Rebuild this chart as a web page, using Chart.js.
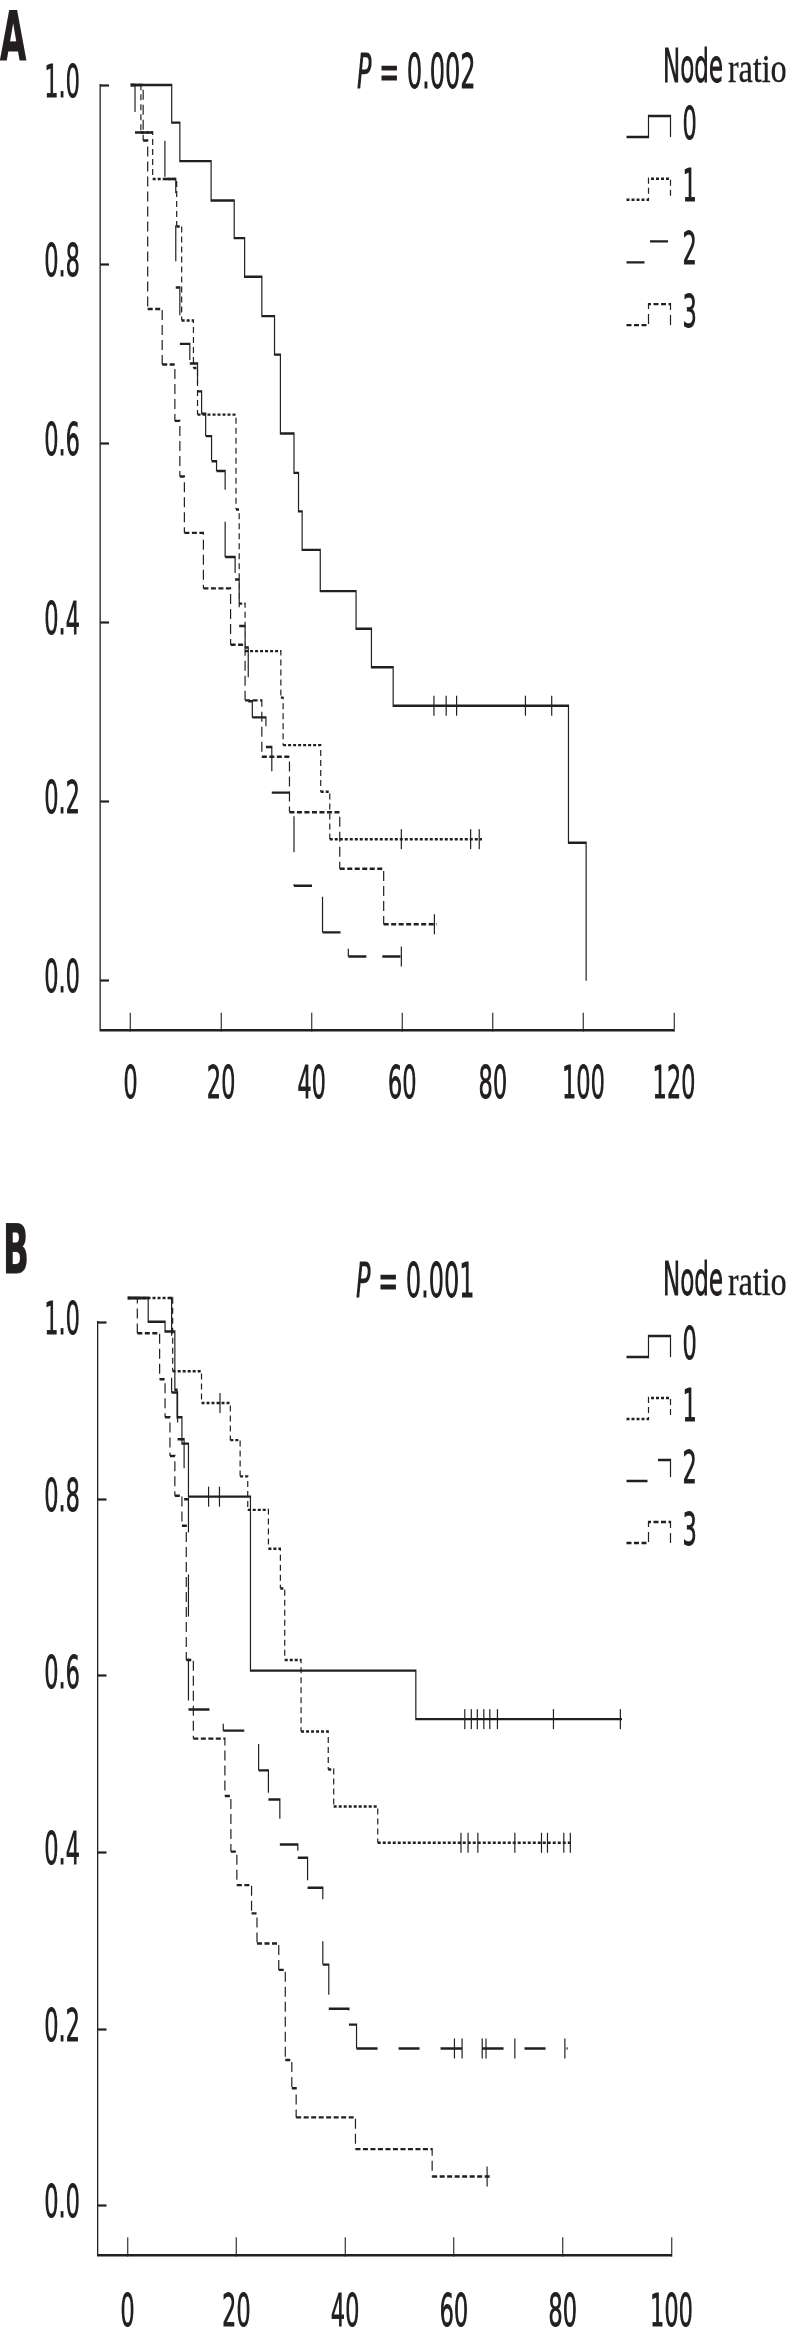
<!DOCTYPE html>
<html lang="en">
<head>
<meta charset="utf-8">
<title>Node ratio survival curves</title>
<script src="https://cdn.jsdelivr.net/npm/chart.js@4.4.1/dist/chart.umd.min.js"></script>
<style>
  html, body { margin: 0; padding: 0; background: #fff; }
  #page { position: relative; width: 787px; height: 2341px; overflow: hidden; }
  #page canvas { position: absolute; left: 0; }
</style>
</head>
<body>
<div id="page">
  <!-- drawn twice as wide and squeezed by css, the original figure is squeezed the same way -->
  <canvas id="grafico-a" width="1574" height="1170" style="top:0px;width:787px;height:1170px"></canvas>
  <canvas id="grafico-b" width="1574" height="1171" style="top:1170px;width:787px;height:1171px"></canvas>
</div>
<script>
const ink = '#231f20';
const groupLabels = ['0', '1', '2', '3'];
const yTicks = [0, 0.2, 0.4, 0.6, 0.8, 1.0];

// Panel A - time (months) / survival / censored times per node ratio group
const aXTicks = [0, 20, 40, 60, 80, 100, 120];
const aPValue = '0.002';

const aTime0 = [0, 9.1, 10.9, 17.8, 22.9, 25.2, 29.0, 31.8, 33.1, 36.1, 37.1, 37.9, 41.9, 49.8, 53.2, 58.0, 96.7, 100.6];
const aSurv0 = [1.0, 0.958, 0.915, 0.871, 0.829, 0.786, 0.742, 0.699, 0.611, 0.567, 0.524, 0.481, 0.435, 0.393, 0.350, 0.307, 0.154, 0.0];
const aCens0 = [67.0, 69.7, 72.0, 87.2, 93.0];

const aTime1 = [0, 2.3, 4.9, 10.2, 11.3, 13.9, 14.8, 23.3, 24.0, 25.3, 33.2, 33.7, 42.0, 44.0, 77.6];
const aSurv1 = [1.0, 0.947, 0.895, 0.842, 0.737, 0.684, 0.632, 0.526, 0.421, 0.368, 0.316, 0.263, 0.211, 0.158, 0.158];
const aCens1 = [59.8, 75.1, 77.0];

const aTime2 = [0, 1.0, 7.6, 10.0, 10.9, 13.1, 14.8, 15.7, 16.6, 17.9, 19.0, 20.9, 23.1, 24.0, 25.3, 26.0, 26.9, 29.9, 31.2, 36.1, 42.4, 48.1, 59.8];
const aSurv2 = [1.0, 0.947, 0.895, 0.774, 0.711, 0.689, 0.658, 0.633, 0.608, 0.580, 0.569, 0.473, 0.448, 0.396, 0.372, 0.312, 0.294, 0.261, 0.210, 0.106, 0.054, 0.027, 0.027];
const aCens2 = [59.8];

const aTime3 = [0, 2.8, 3.8, 7.0, 9.8, 10.9, 11.9, 16.1, 22.1, 25.3, 29.0, 35.1, 46.2, 55.9, 67.6];
const aSurv3 = [1.0, 0.938, 0.75, 0.688, 0.625, 0.563, 0.5, 0.438, 0.375, 0.313, 0.25, 0.188, 0.125, 0.063, 0.063];
const aCens3 = [67.1];

// Panel B
const bXTicks = [0, 20, 40, 60, 80, 100];
const bPValue = '0.001';

const bTime0 = [0, 3.8, 6.9, 8.7, 9.1, 10.0, 11.2, 22.6, 53.0, 90.9];
const bSurv0 = [1.028, 1.001, 0.990, 0.924, 0.893, 0.863, 0.803, 0.606, 0.551, 0.551];
const bCens0 = [14.9, 16.9, 62.0, 63.2, 64.3, 65.5, 66.6, 68.0, 78.3, 90.6];

const bTime1 = [0, 8.3, 13.6, 18.9, 20.7, 22.1, 25.9, 28.1, 28.9, 31.9, 36.9, 37.9, 46.0, 81.8];
const bSurv1 = [1.028, 0.945, 0.909, 0.867, 0.826, 0.788, 0.744, 0.699, 0.618, 0.537, 0.494, 0.452, 0.411, 0.411];
const bCens1 = [17.0, 61.3, 62.6, 64.4, 71.2, 76.1, 77.2, 80.2, 81.4];

const bTime2 = [0, 8.1, 9.2, 10.4, 11.2, 17.6, 24.1, 25.9, 28.0, 31.3, 33.1, 35.9, 37.0, 40.7, 42.1, 80.9];
const bSurv2 = [1.028, 0.921, 0.868, 0.800, 0.562, 0.538, 0.493, 0.460, 0.409, 0.394, 0.360, 0.273, 0.223, 0.205, 0.178, 0.178];
const bCens2 = [60.1, 61.5, 65.2, 65.9, 71.2, 80.4];

const bTime3 = [0, 1.8, 5.9, 6.9, 7.8, 8.7, 10.0, 10.8, 12.1, 17.9, 19.0, 20.1, 22.8, 23.8, 27.8, 29.0, 30.2, 31.0, 41.9, 56.0, 66.6];
const bSurv3 = [1.028, 0.988, 0.936, 0.893, 0.849, 0.804, 0.770, 0.618, 0.529, 0.464, 0.401, 0.363, 0.331, 0.297, 0.267, 0.165, 0.133, 0.100, 0.064, 0.033, 0.033];
const bCens3 = [66.1];

// survival value of a group at time t (for placing the censor ticks on the curve)
function survivalAt(times, surv, t) {
    let s = surv[0];
    times.forEach((ti, i) => {
        if (ti <= t) s = surv[i];
    });
    return s;
}

function buildDatasets(times, survs, censors, dashes) {
    const lines = times.map((tList, i) => ({
        label: groupLabels[i],
        data: tList.map((t, j) => ({ x: t, y: survs[i][j] })),
        stepped: 'before',
        borderColor: ink,
        borderWidth: 2.4,
        borderDash: dashes[i],
        borderCapStyle: 'butt',
        pointRadius: 0,
        fill: false,
        clip: false,
        // every step is stroked on its own so the dash pattern starts again at each step
        segment: dashes[i].length ? { borderDashOffset: c => (c.p0DataIndex % 2) * 0.001 } : undefined
    }));
    const marks = censors.map((cList, i) => ({
        type: 'scatter',
        label: 'censored ' + groupLabels[i],
        data: cList.map(t => ({ x: t, y: survivalAt(times[i], survs[i], t) })),
        pointStyle: 'line',
        pointRotation: 90,
        pointRadius: 10,
        pointBorderColor: ink,
        pointBorderWidth: 2.4,
        showLine: false,
        clip: false
    }));
    return lines.concat(marks);
}

function writeText(ctx, text, x, y) {
    ctx.strokeText(text, x, y);
    ctx.fillText(text, x, y);
}

// letter, P value, "Node ratio" and the step shaped keys
const panelText = {
    id: 'panelText',
    afterDraw(chart, args, opts) {
        const ctx = chart.ctx;
        ctx.save();
        ctx.fillStyle = ink;
        ctx.strokeStyle = ink;
        ctx.lineWidth = 0.8;
        ctx.textAlign = 'left';
        ctx.textBaseline = 'alphabetic';

        ctx.font = 'bold 68px "DejaVu Sans"';
        writeText(ctx, opts.letter, opts.letterAt[0], opts.letterAt[1]);

        ctx.font = 'italic 48px "DejaVu Sans"';
        writeText(ctx, 'P', opts.pAt[0], opts.pAt[1]);
        const pWidth = ctx.measureText('P').width;
        ctx.font = '48px "DejaVu Sans"';
        writeText(ctx, ' = ' + opts.pValue, opts.pAt[0] + pWidth, opts.pAt[1]);

        ctx.font = '46px "DejaVu Sans"';
        writeText(ctx, 'Node', opts.titleAt[0], opts.titleAt[1]);
        const nodeWidth = ctx.measureText('Node').width + 10;
        ctx.save();
        ctx.translate(opts.titleAt[0] + nodeWidth, opts.titleAt[1]);
        ctx.scale(1.6, 1);
        ctx.font = '40px "Liberation Serif"';
        ctx.lineWidth = 0.4;
        writeText(ctx, 'ratio', 0, 0);
        ctx.restore();

        const x0 = opts.legendAt[0];
        const y0 = opts.legendAt[1];
        ctx.font = '45px "DejaVu Sans"';
        ctx.textBaseline = 'middle';
        chart.data.datasets.filter(ds => ds.type !== 'scatter').forEach((ds, i) => {
            const cy = y0 + i * opts.legendGap;
            ctx.lineWidth = ds.borderWidth;
            ctx.setLineDash(ds.borderDash);
            ctx.beginPath();
            ctx.moveTo(x0, cy + 10);
            ctx.lineTo(x0 + 44, cy + 10);
            ctx.lineTo(x0 + 44, cy - 11);
            ctx.lineTo(x0 + 88, cy - 11);
            ctx.lineTo(x0 + 88, cy + 10);
            ctx.stroke();
            ctx.setLineDash([]);
            ctx.lineWidth = 0.8;
            writeText(ctx, ds.label, x0 + 112, cy);
        });
        ctx.restore();
    }
};

function axisOptions() {
    return {
        grid: { drawOnChartArea: false, drawTicks: true, tickLength: -18, tickWidth: 2.2, tickColor: ink },
        border: { display: true, color: ink, width: 2.6 },
        ticks: {
            color: ink,
            textStrokeColor: ink,
            textStrokeWidth: 0.8,
            font: { family: '"DejaVu Sans", sans-serif', size: 45 },
            autoSkip: false,
            maxRotation: 0,
            minRotation: 0
        }
    };
}

function makeChart(id, p) {
    const xAxis = axisOptions();
    const yAxis = axisOptions();
    return new Chart(document.getElementById(id), {
        type: 'line',
        data: { datasets: buildDatasets(p.times, p.survs, p.censors, p.dashes) },
        options: {
            responsive: false,
            animation: false,
            devicePixelRatio: 1,
            layout: { padding: p.padding },
            scales: {
                x: {
                    ...xAxis,
                    type: 'linear',
                    min: p.xMin,
                    max: p.xMax,
                    afterBuildTicks: s => { s.ticks = p.xTicks.map(v => ({ value: v })); },
                    afterFit: s => { s.height = p.xHeight; },
                    ticks: { ...xAxis.ticks, padding: p.xPad, callback: v => String(v) }
                },
                y: {
                    ...yAxis,
                    type: 'linear',
                    min: p.yMin,
                    max: 1,
                    afterBuildTicks: s => { s.ticks = yTicks.map(v => ({ value: v })); },
                    afterFit: s => { s.width = p.yWidth; },
                    ticks: { ...yAxis.ticks, padding: p.yPad, callback: v => v.toFixed(1) }
                }
            },
            plugins: {
                legend: { display: false },
                tooltip: { enabled: false },
                panelText: p.text
            }
        },
        plugins: [panelText]
    });
}

let chartA = makeChart('grafico-a', {
    times: [aTime0, aTime1, aTime2, aTime3],
    survs: [aSurv0, aSurv1, aSurv2, aSurv3],
    censors: [aCens0, aCens1, aCens2, aCens3],
    dashes: [[], [6, 4], [36, 32], [10, 5]],
    xTicks: aXTicks,
    xMin: -6.73,
    xMax: 120,
    yMin: -0.0558,
    padding: { top: 58.3, right: 226, bottom: 0, left: 0 },
    xHeight: 139.3,
    yWidth: 200,
    xPad: 47,
    yPad: 58,
    text: {
        letter: 'A', letterAt: [0, 60],
        pValue: aPValue, pAt: [714, 88],
        titleAt: [1326, 82],
        legendAt: [1253, 127], legendGap: 62.7
    }
});

let chartB = makeChart('grafico-b', {
    times: [bTime0, bTime1, bTime2, bTime3],
    survs: [bSurv0, bSurv1, bSurv2, bSurv3],
    censors: [bCens0, bCens1, bCens2, bCens3],
    dashes: [[], [6, 4], [42, 42], [10, 5]],
    xTicks: bXTicks,
    xMin: -5.52,
    xMax: 100,
    yMin: -0.0562,
    padding: { top: 152.7, right: 231, bottom: 0, left: 0 },
    xHeight: 85.7,
    yWidth: 195,
    xPad: 50,
    yPad: 53,
    text: {
        letter: 'B', letterAt: [6, 103],
        pValue: bPValue, pAt: [712, 127],
        titleAt: [1326, 125],
        legendAt: [1253, 177], legendGap: 62
    }
});
</script>
</body>
</html>
